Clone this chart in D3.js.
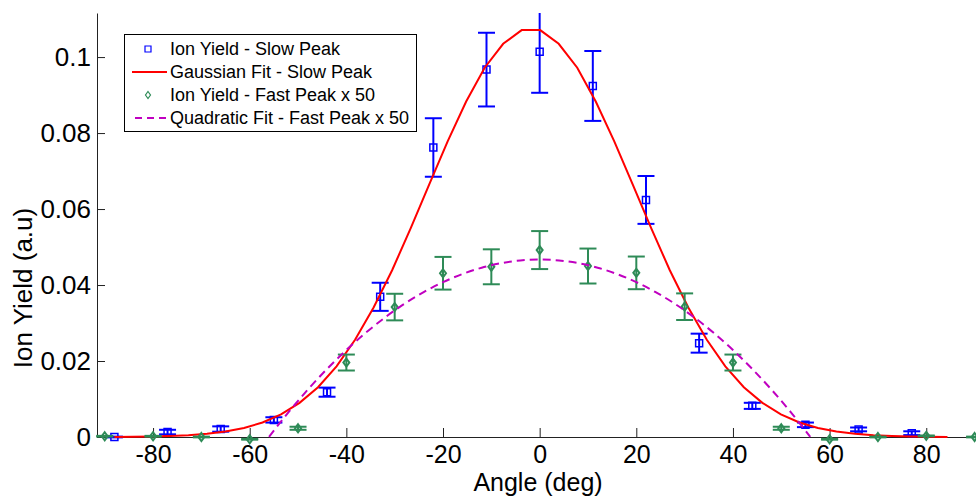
<!DOCTYPE html>
<html>
<head>
<meta charset="utf-8">
<script src="https://cdn.jsdelivr.net/npm/d3@7/dist/d3.min.js"></script>
<style>
  html, body { margin: 0; padding: 0; background: #fff; }
  svg { display: block; font-family: "Liberation Sans", Arial, sans-serif; }
</style>
</head>
<body>
<svg id="chart" width="976" height="496"></svg>
<script>
// Slow peak ion yield (blue squares) with error bars
const slowAngle = [-88, -77, -66, -55, -44, -33, -22, -11, 0, 11, 22, 33, 44, 55, 66, 77];
const slowYield = [0.0000, 0.0013, 0.0021, 0.0045, 0.0118, 0.0369, 0.0762, 0.0967, 0.1014, 0.0924, 0.0624, 0.0247, 0.0082, 0.0032, 0.0020, 0.0010];
const slowErr   = [0.0001, 0.0006, 0.0007, 0.0007, 0.0012, 0.0037, 0.0077, 0.0097, 0.0108, 0.0092, 0.0063, 0.0025, 0.0008, 0.0006, 0.0005, 0.0005];

// Fast peak ion yield x 50 (green diamonds) with error bars
const fastAngle = [-90, -80, -70, -60, -50, -40, -30, -20, -10, 0, 10, 20, 30, 40, 50, 60, 70, 80, 90];
const fastYield = [0.0002, 0.0002, 0.0000, -0.0006, 0.0023, 0.0196, 0.0342, 0.0431, 0.0448, 0.0492, 0.0450, 0.0432, 0.0343, 0.0196, 0.0023, -0.0006, 0.0000, 0.0003, 0.0000];
const fastErr   = [0.0001, 0.0001, 0.0001, 0.0001, 0.0004, 0.0021, 0.0035, 0.0043, 0.0046, 0.0050, 0.0046, 0.0043, 0.0035, 0.0021, 0.0004, 0.0001, 0.0001, 0.0001, 0.0001];

// Gaussian fit to the slow peak
const gaussAngle = [-88.00, -84.17, -80.34, -76.51, -72.68, -68.84, -65.01, -61.18, -57.35, -53.52,
                    -49.69, -45.86, -42.03, -38.20, -34.36, -30.53, -26.70, -22.87, -19.04, -15.21,
                    -11.38, -7.55, -3.72, 0.11, 3.94, 7.78, 11.61, 15.44, 19.27, 23.10,
                    26.93, 30.76, 34.59, 38.42, 42.25, 46.09, 49.92, 53.75, 57.58, 61.41,
                    65.24, 69.07, 72.90, 76.73, 80.56, 84.39];
const gaussYield = [0.00003, 0.00007, 0.00014, 0.00026, 0.00047, 0.00083, 0.00143, 0.00237, 0.00381, 0.00595,
                    0.00898, 0.0131, 0.0186, 0.0256, 0.0341, 0.0439, 0.0549, 0.0664, 0.0778, 0.0883,
                    0.0972, 0.1035, 0.1071, 0.1071, 0.1035, 0.0972, 0.0883, 0.0778, 0.0664, 0.0549,
                    0.0439, 0.0341, 0.0256, 0.0186, 0.0131, 0.00898, 0.00595, 0.00381, 0.00237, 0.00143,
                    0.00083, 0.00047, 0.00026, 0.00014, 0.00007, 0.00003];

// Quadratic fit to the fast peak x 50
const quadAngle = [-56, -52, -48, -44, -40, -36, -32, -28, -24, -20, -16, -12, -8, -4, 0,
                   4, 8, 12, 16, 20, 24, 28, 32, 36, 40, 44, 48, 52, 56];
const quadYield = [0.00005, 0.00648, 0.01243, 0.0179, 0.0229, 0.02742, 0.03147, 0.03504, 0.03813, 0.04075,
                   0.04289, 0.04456, 0.04575, 0.04646, 0.0467,
                   0.04646, 0.04575, 0.04456, 0.04289, 0.04075, 0.03813, 0.03504, 0.03147, 0.02742, 0.0229,
                   0.0179, 0.01243, 0.00648, 0.00005];

const xTicks = [-80, -60, -40, -20, 0, 20, 40, 60, 80];
const yTicks = [0, 0.02, 0.04, 0.06, 0.08, 0.1];
const yTickLabels = ["0", "0.02", "0.04", "0.06", "0.08", "0.1"];

const legendLabels = [
  "Ion Yield - Slow Peak",
  "Gaussian Fit - Slow Peak",
  "Ion Yield - Fast Peak x 50",
  "Quadratic Fit - Fast Peak x 50"
];

const BLUE = "#0000ff", RED = "#ff0000", GREEN = "#2e8b57", MAGENTA = "#c000c0";

const svg = d3.select("#chart");
const x = d3.scaleLinear().domain([-91.6, 90.5]).range([97, 977]);
const y = d3.scaleLinear().domain([0, 0.1116]).range([437, 13]);

// Marks are clipped at the top of the axes
svg.append("defs").append("clipPath").attr("id", "plotClip")
  .append("rect").attr("x", 0).attr("y", y.range()[1]).attr("width", 976).attr("height", 496);

// Axes
const xAxis = d3.axisBottom(x).tickValues(xTicks).tickSizeInner(-9).tickSizeOuter(0).tickPadding(8)
  .tickFormat(d => d < 0 ? "-" + Math.abs(d) : String(d));
const yAxis = d3.axisLeft(y).tickValues(yTicks).tickSizeInner(-8).tickSizeOuter(0).tickPadding(6)
  .tickFormat((d, i) => yTickLabels[i]);

const gx = svg.append("g").attr("transform", "translate(0,437)").call(xAxis);
const gy = svg.append("g").attr("transform", "translate(97,0)").call(yAxis);
[gx, gy].forEach(g => {
  g.select(".domain").attr("stroke", "#222").attr("stroke-width", 1);
  g.selectAll(".tick line").attr("stroke", "#222").attr("stroke-width", 1);
  g.selectAll(".tick text").attr("fill", "#000")
    .style("font-family", "'Liberation Sans', Arial, sans-serif");
});
gx.selectAll(".tick text").style("font-size", "25px");
gy.selectAll(".tick text").style("font-size", "26px");

// Axis titles
svg.append("text").attr("x", 538).attr("y", 490.5).attr("text-anchor", "middle")
  .style("font-size", "25px").text("Angle (deg)");
svg.append("text").attr("transform", "translate(32,288) rotate(-90)").attr("text-anchor", "middle")
  .style("font-size", "26px").text("Ion Yield (a.u)");

const plot = svg.append("g").attr("clip-path", "url(#plotClip)");
const CAP = 8.5;

function errorBars(angles, vals, errs, color) {
  const g = plot.append("g").attr("stroke", color).attr("stroke-width", 2).attr("fill", "none");
  angles.forEach((a, i) => {
    const cx = x(a), top = y(vals[i] + errs[i]), bot = y(vals[i] - errs[i]);
    g.append("line").attr("x1", cx).attr("x2", cx).attr("y1", top).attr("y2", bot);
    g.append("line").attr("x1", cx - CAP).attr("x2", cx + CAP).attr("y1", top).attr("y2", top);
    g.append("line").attr("x1", cx - CAP).attr("x2", cx + CAP).attr("y1", bot).attr("y2", bot);
  });
  return g;
}

const square = (cx, cy, s) => `M${cx - s},${cy - s}H${cx + s}V${cy + s}H${cx - s}Z`;
const diamond = (cx, cy, w, h) => `M${cx},${cy - h}L${cx + w},${cy}L${cx},${cy + h}L${cx - w},${cy}Z`;

// Slow peak data
errorBars(slowAngle, slowYield, slowErr, BLUE);
plot.append("g").selectAll("path").data(slowAngle).join("path")
  .attr("d", (a, i) => square(x(a), y(slowYield[i]), 3.5))
  .attr("fill", "none").attr("stroke", BLUE).attr("stroke-width", 1.5);

// Gaussian fit
const line = d3.line().x(d => x(d[0])).y(d => y(d[1]));
plot.append("path").datum(gaussAngle.map((a, i) => [a, gaussYield[i]]))
  .attr("d", line).attr("fill", "none").attr("stroke", RED).attr("stroke-width", 2);

// Fast peak data
errorBars(fastAngle, fastYield, fastErr, GREEN);
plot.append("g").selectAll("path").data(fastAngle).join("path")
  .attr("d", (a, i) => diamond(x(a), y(fastYield[i]), 3, 4))
  .attr("fill", "none").attr("stroke", GREEN).attr("stroke-width", 2);

// Quadratic fit
plot.append("path").datum(quadAngle.map((a, i) => [a, quadYield[i]]))
  .attr("d", d3.line().curve(d3.curveMonotoneX).x(d => x(d[0])).y(d => y(d[1])))
  .attr("fill", "none").attr("stroke", MAGENTA).attr("stroke-width", 2).attr("stroke-dasharray", "8,5");

// Legend
const lg = svg.append("g");
lg.append("rect").attr("x", 124.5).attr("y", 34.5).attr("width", 292).attr("height", 97)
  .attr("fill", "#fff").attr("stroke", "#000").attr("stroke-width", 1);
const rowY = [49, 72, 95, 118];
lg.append("path").attr("d", square(148, rowY[0], 3)).attr("fill", "none").attr("stroke", BLUE).attr("stroke-width", 1.2);
lg.append("line").attr("x1", 132).attr("x2", 167).attr("y1", rowY[1]).attr("y2", rowY[1]).attr("stroke", RED).attr("stroke-width", 2);
lg.append("path").attr("d", diamond(148, rowY[2], 2.5, 3.5)).attr("fill", "none").attr("stroke", GREEN).attr("stroke-width", 1.2);
lg.append("line").attr("x1", 135).attr("x2", 167).attr("y1", rowY[3]).attr("y2", rowY[3]).attr("stroke", MAGENTA).attr("stroke-width", 2).attr("stroke-dasharray", "7,5");
lg.selectAll("text.lbl").data(legendLabels).join("text").attr("class", "lbl")
  .attr("x", 170).attr("y", (d, i) => rowY[i]).attr("dy", "0.35em")
  .style("font-size", "18px").attr("fill", "#000").text(d => d);
</script>
</body>
</html>
